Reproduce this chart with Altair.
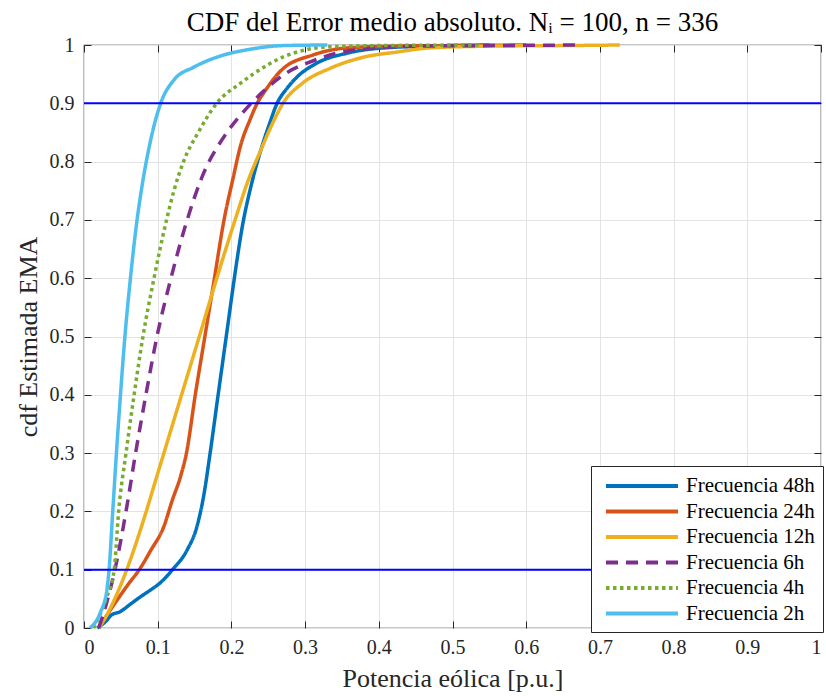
import altair as alt
import pandas as pd

names = ["Frecuencia 48h", "Frecuencia 24h", "Frecuencia 12h",
         "Frecuencia 6h", "Frecuencia 4h", "Frecuencia 2h"]

x48 = [0.018, 0.03, 0.037, 0.049, 0.062, 0.076, 0.09, 0.103, 0.12, 0.14, 0.153, 0.163, 0.17, 0.182,
       0.193, 0.204, 0.215, 0.227, 0.24, 0.252, 0.262, 0.275, 0.289, 0.316, 0.357, 0.42, 0.5, 0.55]
y48 = [0.0, 0.012, 0.022, 0.028, 0.04, 0.053, 0.065, 0.077, 0.1, 0.134, 0.173, 0.231, 0.29, 0.4,
       0.5, 0.6, 0.69, 0.76, 0.82, 0.866, 0.9, 0.925, 0.945, 0.969, 0.986, 0.996, 0.999, 1.0]

x24 = [0.02, 0.03, 0.045, 0.06, 0.075, 0.091, 0.108, 0.12, 0.131, 0.139, 0.151, 0.164, 0.177, 0.19,
       0.202, 0.213, 0.225, 0.235, 0.245, 0.268, 0.311, 0.357, 0.42, 0.5, 0.6]
y24 = [0.0, 0.02, 0.048, 0.075, 0.1, 0.134, 0.173, 0.22, 0.26, 0.3, 0.4, 0.5, 0.6, 0.7,
       0.77, 0.83, 0.871, 0.9, 0.92, 0.957, 0.983, 0.995, 0.998, 0.999, 1.0]

x12 = [0.02, 0.03, 0.041, 0.058, 0.077, 0.1, 0.13, 0.16, 0.185, 0.205, 0.222, 0.24, 0.256,
       0.27, 0.297, 0.334, 0.379, 0.425, 0.469, 0.55, 0.65, 0.727]
y12 = [0.0, 0.02, 0.048, 0.1, 0.17, 0.265, 0.39, 0.515, 0.62, 0.7, 0.765, 0.82, 0.866,
       0.9, 0.935, 0.96, 0.979, 0.988, 0.995, 0.998, 0.999, 1.0]

x6 = [0.02, 0.03, 0.042, 0.057, 0.07, 0.084, 0.099, 0.118, 0.14, 0.159, 0.194, 0.216, 0.243,
      0.272, 0.307, 0.343, 0.379, 0.45, 0.55, 0.669]
y6 = [0.0, 0.04, 0.1, 0.2, 0.3, 0.4, 0.5, 0.6, 0.7, 0.77, 0.85, 0.885, 0.92,
      0.95, 0.971, 0.986, 0.993, 0.998, 0.999, 1.0]

x4 = [0.013, 0.03, 0.041, 0.047, 0.057, 0.068, 0.08, 0.095, 0.112, 0.122, 0.135, 0.155, 0.18, 0.213,
      0.248, 0.271, 0.295, 0.334, 0.4, 0.537]
y4 = [0.0, 0.05, 0.1, 0.2, 0.3, 0.4, 0.5, 0.6, 0.7, 0.75, 0.8, 0.85, 0.9, 0.935,
      0.965, 0.98, 0.99, 0.997, 0.999, 1.0]

x2 = [0.008, 0.022, 0.031, 0.034, 0.039, 0.044, 0.0495, 0.0555, 0.063, 0.072, 0.079, 0.091, 0.104,
      0.122, 0.149, 0.18, 0.227, 0.27, 0.33]
y2 = [0.0, 0.026, 0.065, 0.1, 0.2, 0.3, 0.4, 0.5, 0.6, 0.7, 0.76, 0.84, 0.9,
      0.94, 0.962, 0.979, 0.993, 0.999, 1.0]

colors = ["#0072BD", "#D95319", "#EDB120", "#7E2F8E", "#77AC30", "#4DBEEE"]
dashes = [[1, 0], [1, 0], [1, 0], [12, 8], [3.5, 3.5], [1, 0]]

ref_levels = [0.1, 0.9]
ticks = [0, 0.1, 0.2, 0.3, 0.4, 0.5, 0.6, 0.7, 0.8, 0.9, 1.0]

rows = []
for i, (nm, xs, ys) in enumerate(zip(names, [x48, x24, x12, x6, x4, x2], [y48, y24, y12, y6, y4, y2])):
    for a, b in zip(xs, ys):
        rows.append({"serie": nm, "x": a, "cdf": b, "k": i})
df = pd.DataFrame(rows)

FONT = "Liberation Serif"
TXT = "#262626"

xscale = alt.Scale(domain=[0, 1], nice=False, zero=False)
yscale = alt.Scale(domain=[0, 1], nice=False, zero=False)

leg = alt.Legend(title=None, orient="none", legendX=507, legendY=421,
                 symbolType="M-3.6,0H3.6", symbolSize=400, symbolStrokeWidth=4,
                 symbolOffset=31, labelOffset=32,
                 labelFont=FONT, labelFontSize=21, labelColor="black",
                 strokeColor="#262626", fillColor="white", padding=8,
                 rowPadding=3.5, labelLimit=300)

lines = alt.Chart(df).mark_line(strokeWidth=3.5, interpolate="monotone").encode(
    x=alt.X("x:Q", scale=xscale,
            axis=alt.Axis(orient="bottom", values=ticks, format="~g", title="Potencia eólica [p.u.]",
                          offset=-7, tickSize=7, domain=False, grid=True, gridColor="#e3e3e3",
                          tickColor=TXT, labelColor=TXT, labelFont=FONT, labelFontSize=20,
                          labelPadding=9, titleFont=FONT, titleFontSize=26, titleFontWeight="normal",
                          titleColor=TXT, titlePadding=8)),
    y=alt.Y("cdf:Q", scale=yscale,
            axis=alt.Axis(orient="left", values=ticks, format="~g", title="cdf Estimada EMA",
                          offset=-7, tickSize=7, domain=False, grid=True, gridColor="#e3e3e3",
                          tickColor=TXT, labelColor=TXT, labelFont=FONT, labelFontSize=20,
                          labelPadding=10, titleFont=FONT, titleFontSize=26, titleFontWeight="normal",
                          titleColor=TXT, titlePadding=8)),
    color=alt.Color("serie:N", scale=alt.Scale(domain=names, range=colors), legend=leg),
    strokeDash=alt.StrokeDash("serie:N", scale=alt.Scale(domain=names, range=dashes), legend=leg),
)

tickdf = pd.DataFrame({"t": ticks})
box_ticks = alt.Chart(tickdf).mark_point(opacity=0).encode(
    x=alt.X("t:Q", scale=xscale,
            axis=alt.Axis(orient="top", values=ticks, labels=False, title=None, offset=-7, tickSize=7,
                          domain=False, grid=False, tickColor=TXT)),
    y=alt.Y("t:Q", scale=yscale,
            axis=alt.Axis(orient="right", values=ticks, labels=False, title=None, offset=-7, tickSize=7,
                          domain=False, grid=False, tickColor=TXT)),
)

refdf = pd.DataFrame({"v": ref_levels})
rules = alt.Chart(refdf).mark_rule(color="#0000FF", strokeWidth=2).encode(
    y=alt.Y("v:Q", scale=yscale, axis=None)
)

chart = alt.layer(lines, box_ticks, rules).resolve_axis(x="independent", y="independent").properties(
    width=737, height=583,
    autosize=alt.AutoSizeParams(type="none"),
    padding={"left": 84, "top": 45, "right": 5, "bottom": 68},
    title=alt.TitleParams("CDF del Error medio absoluto. Nᵢ = 100, n = 336",
                          font=FONT, fontSize=27, fontWeight="normal", color="black",
                          offset=-2, anchor="middle"),
    background="white",
).configure_view(stroke="#262626", strokeWidth=1.2)

chart.save("out.html", embed_options={"renderer": "svg", "actions": False})
